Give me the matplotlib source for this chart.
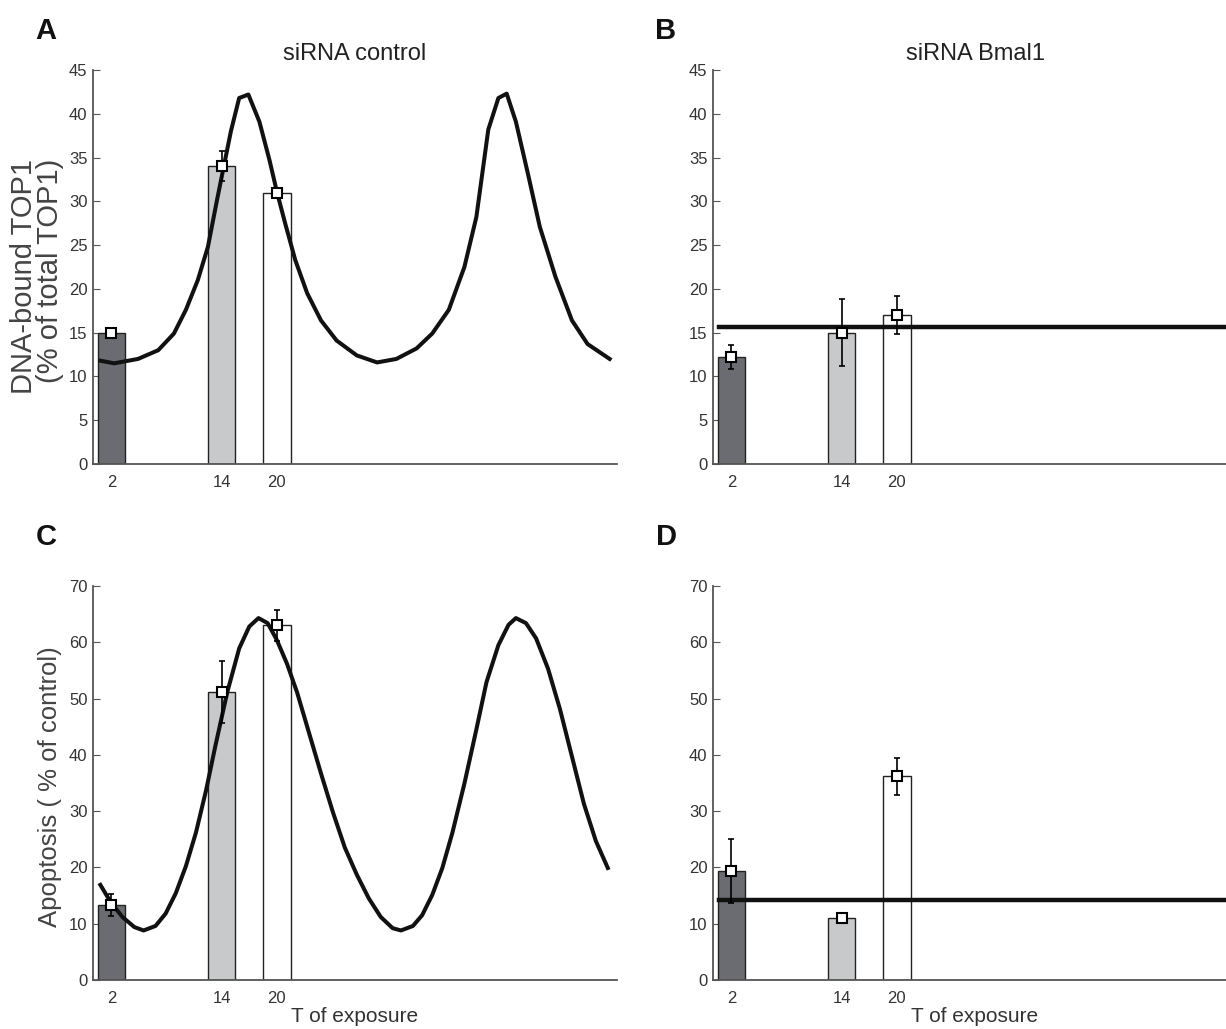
import numpy as np
import matplotlib.pyplot as plt

plt.rcParams['font.family'] = ['Liberation Sans', 'DejaVu Sans']

# exposure times and bar data
times = [2, 14, 20]
bar_colors = ['#6b6c71', '#c8c9cb', '#ffffff']

top1_ctrl = [15.0, 34.0, 31.0]
top1_ctrl_err = [0.3, 1.7, 0.3]
top1_bmal = [12.2, 15.0, 17.0]
top1_bmal_err = [1.4, 3.8, 2.2]
top1_bmal_level = 15.7

apo_ctrl = [13.3, 51.2, 63.0]
apo_ctrl_err = [1.9, 5.5, 2.8]
apo_bmal = [19.3, 11.1, 36.2]
apo_bmal_err = [5.7, 0.5, 3.3]
apo_bmal_level = 14.3

# model curves
top1_curve_t = [0.8, 2.3, 4.9, 7.1, 8.8, 10.1, 11.4, 12.5, 13.5, 15.0, 15.9, 16.9, 18.1,
                19.2, 20.0, 20.9, 22.0, 23.3, 24.8, 26.5, 28.7, 30.9, 33.0, 35.2, 36.9,
                38.7, 40.4, 41.7, 43.0, 44.1, 45.0, 46.0, 47.3, 48.6, 50.3, 52.1, 53.8, 56.2]
top1_curve_y = [11.8, 11.5, 12.0, 13.0, 14.9, 17.6, 21.0, 24.8, 30.2, 38.0, 41.8, 42.2, 39.1,
                34.7, 31.1, 27.5, 23.3, 19.5, 16.4, 14.1, 12.4, 11.6, 12.0, 13.2, 14.9,
                17.6, 22.5, 28.2, 38.2, 41.8, 42.3, 39.1, 33.2, 27.1, 21.4, 16.4, 13.7, 12.0]

apo_curve_t = [0.8, 1.9, 3.2, 4.5, 5.5, 6.8, 7.9, 9.0, 10.1, 11.2, 12.3, 13.3, 14.6, 15.9,
               17.0, 18.0, 19.0, 20.0, 21.1, 22.2, 23.5, 24.8, 26.1, 27.4, 28.7, 30.0,
               31.3, 32.6, 33.5, 34.8, 35.8, 36.9, 38.0, 39.1, 40.4, 41.7, 42.8, 44.1,
               45.2, 46.0, 47.1, 48.2, 49.5, 50.8, 52.1, 53.4, 54.7, 56.0]
apo_curve_y = [16.9, 13.9, 11.2, 9.4, 8.8, 9.6, 11.8, 15.4, 20.2, 26.2, 33.7, 41.5, 51.1, 58.9,
               62.8, 64.3, 63.4, 60.4, 56.2, 51.1, 43.9, 36.7, 29.8, 23.5, 18.7, 14.5,
               11.2, 9.2, 8.8, 9.6, 11.5, 15.1, 19.9, 26.2, 34.9, 44.5, 52.9, 59.5,
               63.1, 64.3, 63.4, 60.7, 55.3, 48.1, 39.7, 31.3, 24.7, 19.9]

fig = plt.figure(figsize=(12.26, 10.29), dpi=100)
W, H = 1226, 1029
aw = 524 / W
ah = 394 / H
axA = fig.add_axes([93 / W, (H - 464) / H, aw, ah])
axB = fig.add_axes([713 / W, (H - 464) / H, aw, ah])
axC = fig.add_axes([93 / W, (H - 980) / H, aw, ah])
axD = fig.add_axes([713 / W, (H - 980) / H, aw, ah])

xmax = 57


def draw_panel(ax, vals, errs, ymax, ystep):
    ax.bar(times, vals, width=3, color=bar_colors, edgecolor='#222222', linewidth=1.0, zorder=2)
    ax.errorbar(times, vals, yerr=errs, fmt='none', ecolor='black', elinewidth=1.2,
                capsize=2.5, capthick=1.2, zorder=4)
    ax.plot(times, vals, 's', ms=7, mfc='white', mec='black', mew=1.5, zorder=5)
    ax.set_xlim(0, xmax)
    ax.set_ylim(0, ymax)
    ax.set_xticks(times)
    ax.set_yticks(np.arange(0, ymax + 1, ystep))
    for s in ['top', 'right']:
        ax.spines[s].set_visible(False)
    for s in ['left', 'bottom']:
        ax.spines[s].set_color('#555555')
        ax.spines[s].set_linewidth(1.3)
    ax.tick_params(axis='y', direction='in', length=5, color='#555555', labelsize=12,
                   labelcolor='#333333', pad=4)
    ax.tick_params(axis='x', length=0, labelsize=12, labelcolor='#333333', pad=8)


draw_panel(axA, top1_ctrl, top1_ctrl_err, 45, 5)
axA.plot(top1_curve_t, top1_curve_y, color='#111111', lw=2.9, zorder=3)
draw_panel(axB, top1_bmal, top1_bmal_err, 45, 5)
axB.axhline(top1_bmal_level, xmin=0.7 / xmax, xmax=1, color='#111111', lw=3.2, zorder=3)

draw_panel(axC, apo_ctrl, apo_ctrl_err, 70, 10)
axC.plot(apo_curve_t, apo_curve_y, color='#111111', lw=2.9, zorder=3)
draw_panel(axD, apo_bmal, apo_bmal_err, 70, 10)
axD.axhline(apo_bmal_level, xmin=0.7 / xmax, xmax=1, color='#111111', lw=3.2, zorder=3)

axA.set_title('siRNA control', fontsize=17, color='#222222', pad=7)
axB.set_title('siRNA Bmal1', fontsize=17, color='#222222', pad=7)

fig.text(37 / W, 1 - 276 / H, 'DNA-bound TOP1\n(% of total TOP1)', rotation=90,
         fontsize=21, color='#444444', ha='center', va='center',
         multialignment='right', linespacing=0.95)
fig.text(50 / W, 1 - 787 / H, 'Apoptosis ( % of control)', rotation=90,
         fontsize=18.5, color='#444444', ha='center', va='center')
axC.set_xlabel('T of exposure', fontsize=15, color='#333333', labelpad=1)
axD.set_xlabel('T of exposure', fontsize=15, color='#333333', labelpad=1)

for letter, (x, y) in zip('ABCD', [(46, 31), (666, 31), (46, 537), (666, 537)]):
    fig.text(x / W, 1 - y / H, letter, fontsize=21, fontweight='bold', color='#111111',
             va='center', ha='center')

fig.savefig('out.png', dpi=100)
